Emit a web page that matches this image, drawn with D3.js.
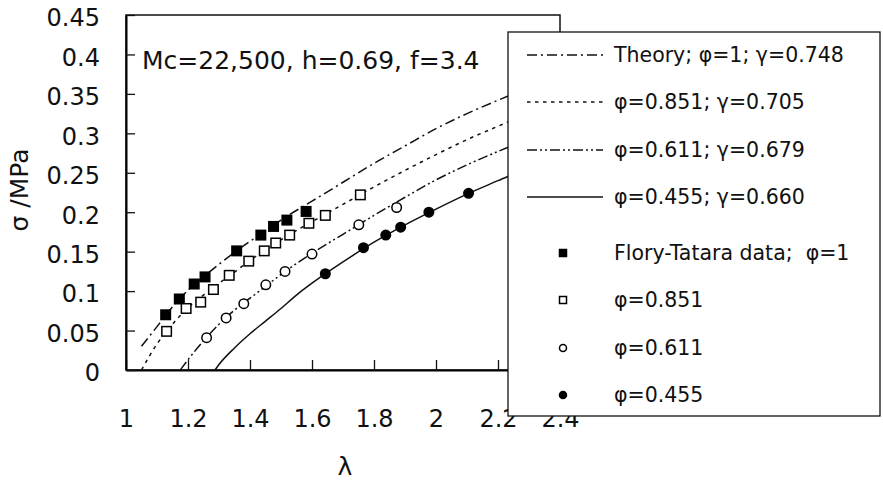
<!DOCTYPE html>
<html>
<head>
<meta charset="utf-8">
<title>stress-strain with d3</title>
<style>
	body { margin: 0; background: #fff; }
	svg text { font-family: "DejaVu Sans", sans-serif; fill: #111; }
</style>
</head>
<body>
<div class="svg-chart"></div>
<script src="https://cdn.jsdelivr.net/npm/d3@7"></script>
<script>
	// tick labels
	let lambdaTicks = [1, 1.2, 1.4, 1.6, 1.8, 2, 2.2, 2.4];
	let sigmaTicks = [0, 0.05, 0.1, 0.15, 0.2, 0.25, 0.3, 0.35, 0.4, 0.45];

	// theory curves [lambda, sigma]
	let theoryPhi1 = [[1.05,0.030],[1.10,0.055],[1.15,0.080],[1.20,0.101],[1.25,0.118],[1.30,0.134],[1.35,0.149],[1.40,0.163],[1.45,0.176],[1.50,0.190],[1.60,0.214],[1.70,0.238],[1.80,0.262],[1.90,0.284],[2.00,0.306],[2.10,0.325],[2.20,0.342],[2.30,0.358],[2.40,0.374]];
	let theoryPhi851 = [[1.05,0.0],[1.10,0.033],[1.15,0.058],[1.20,0.079],[1.25,0.095],[1.30,0.110],[1.35,0.124],[1.40,0.139],[1.45,0.152],[1.50,0.165],[1.60,0.188],[1.70,0.210],[1.80,0.232],[1.90,0.253],[2.00,0.273],[2.10,0.292],[2.20,0.309],[2.30,0.325],[2.40,0.341]];
	let theoryPhi611 = [[1.175,0.0],[1.20,0.013],[1.25,0.037],[1.30,0.058],[1.35,0.076],[1.40,0.091],[1.45,0.106],[1.50,0.121],[1.60,0.148],[1.70,0.172],[1.80,0.196],[1.90,0.219],[2.00,0.241],[2.10,0.260],[2.20,0.277],[2.30,0.293],[2.40,0.309]];
	let theoryPhi455 = [[1.287,0.0],[1.30,0.007],[1.35,0.028],[1.40,0.046],[1.45,0.062],[1.50,0.078],[1.55,0.095],[1.60,0.110],[1.70,0.137],[1.80,0.162],[1.90,0.184],[2.00,0.204],[2.10,0.223],[2.20,0.240],[2.30,0.257],[2.40,0.273]];

	// measured data [lambda, sigma]
	let dataPhi1 = [[1.128,0.070],[1.172,0.090],[1.220,0.109],[1.255,0.118],[1.357,0.151],[1.435,0.171],[1.476,0.182],[1.519,0.190],[1.581,0.201]];
	let dataPhi851 = [[1.131,0.049],[1.194,0.078],[1.241,0.086],[1.282,0.102],[1.333,0.120],[1.396,0.138],[1.446,0.151],[1.483,0.161],[1.528,0.171],[1.590,0.186],[1.643,0.196],[1.756,0.222]];
	let dataPhi611 = [[1.260,0.041],[1.323,0.066],[1.380,0.084],[1.451,0.108],[1.513,0.125],[1.600,0.147],[1.751,0.184],[1.873,0.206]];
	let dataPhi455 = [[1.643,0.122],[1.766,0.155],[1.838,0.171],[1.886,0.181],[1.977,0.200],[2.105,0.224]];

	let lineLabels = ["Theory; \u03c6=1; \u03b3=0.748", "\u03c6=0.851; \u03b3=0.705", "\u03c6=0.611; \u03b3=0.679", "\u03c6=0.455; \u03b3=0.660"];
	let pointLabels = ["Flory-Tatara data;  \u03c6=1", "\u03c6=0.851", "\u03c6=0.611", "\u03c6=0.455"];
	let annotation = "Mc=22,500, h=0.69, f=3.4";

	window.onload = function(){
		showChart();
	}

	function showChart(){
		let width = 883, height = 480;
		let plot = {"left": 126, "right": 560, "top": 15, "bottom": 370};

		let scaleX = d3.scaleLinear().domain([1, 2.4]).range([plot.left, plot.right]);
		let scaleY = d3.scaleLinear().domain([0, 0.45]).range([plot.bottom, plot.top]);

		let svg = d3.select(".svg-chart").append("svg")
			.attr("width", width)
			.attr("height", height);

		// frame
		svg.append("rect")
			.attr("x", plot.left).attr("y", plot.top)
			.attr("width", plot.right - plot.left).attr("height", plot.bottom - plot.top)
			.attr("fill", "none").attr("stroke", "#111").attr("stroke-width", 1.5);

		// axes, ticks pointing inward
		let axisX = d3.axisBottom(scaleX).tickValues(lambdaTicks).tickSizeInner(-10).tickSizeOuter(0).tickPadding(0).tickFormat(d => String(d));
		let gx = svg.append("g").attr("transform", "translate(0," + plot.bottom + ")").call(axisX);
		gx.select(".domain").attr("stroke-width", 2);
		gx.selectAll(".tick line").attr("stroke", "#111").attr("stroke-width", 1.3);
		gx.selectAll(".tick text").attr("font-size", 24).attr("y", 57).attr("dy", null).attr("font-family", null);

		let axisY = d3.axisLeft(scaleY).tickValues(sigmaTicks).tickSizeInner(-9).tickSizeOuter(0).tickPadding(0).tickFormat(d => String(d));
		let gy = svg.append("g").attr("transform", "translate(" + plot.left + ",0)").call(axisY);
		gy.select(".domain").attr("stroke-width", 2);
		gy.selectAll(".tick line").attr("stroke", "#111").attr("stroke-width", 1.3);
		gy.selectAll(".tick text").attr("font-size", 24).attr("x", -26).attr("dy", "0.45em").attr("font-family", null);

		// axis titles
		svg.append("text")
			.attr("transform", "translate(28," + 190 + ") rotate(-90)")
			.attr("text-anchor", "middle")
			.attr("font-size", 25)
			.text("\u03c3 /MPa");
		svg.append("text")
			.attr("x", (plot.left + 560) / 2 + 2).attr("y", 475)
			.attr("text-anchor", "middle")
			.attr("font-size", 25)
			.text("\u03bb");

		svg.append("text")
			.attr("x", 142).attr("y", 69)
			.attr("font-size", 25)
			.text(annotation);

		// curves
		let dashes = ["10,4,2,4", "3.5,4.5", "10,3,2,3,2,3", null];
		let curves = [theoryPhi1, theoryPhi851, theoryPhi611, theoryPhi455];
		let line = d3.line()
			.x(d => scaleX(d[0]))
			.y(d => scaleY(d[1]))
			.curve(d3.curveMonotoneX);
		curves.forEach((c, i) => {
			svg.append("path")
				.datum(c)
				.attr("d", line)
				.attr("fill", "none")
				.attr("stroke", "#111")
				.attr("stroke-width", 1.5)
				.attr("stroke-dasharray", dashes[i]);
		});

		// markers
		function drawMarker(g, kind, x, y, s){
			if (kind === "fsq" || kind === "osq") {
				g.append("rect")
					.attr("x", x - s / 2).attr("y", y - s / 2)
					.attr("width", s).attr("height", s)
					.attr("fill", kind === "fsq" ? "#000" : "#fff")
					.attr("stroke", "#000").attr("stroke-width", 1.5);
			} else {
				g.append("circle")
					.attr("cx", x).attr("cy", y).attr("r", s / 2)
					.attr("fill", kind === "fci" ? "#000" : "#fff")
					.attr("stroke", "#000").attr("stroke-width", 1.5);
			}
		}
		let kinds = ["fsq", "osq", "oci", "fci"];
		let sets = [dataPhi1, dataPhi851, dataPhi611, dataPhi455];
		let gm = svg.append("g");
		sets.forEach((set, i) => {
			set.forEach(d => drawMarker(gm, kinds[i], scaleX(d[0]), scaleY(d[1]), 9.5));
		});

		// legend box drawn over plot
		let leg = svg.append("g");
		leg.append("rect")
			.attr("x", 508).attr("y", 32)
			.attr("width", 372).attr("height", 384)
			.attr("fill", "#fff").attr("stroke", "#111").attr("stroke-width", 1.3);

		let lineRows = [55, 102, 150, 197];
		lineLabels.forEach((t, i) => {
			leg.append("line")
				.attr("x1", 527).attr("x2", 603)
				.attr("y1", lineRows[i]).attr("y2", lineRows[i])
				.attr("stroke", "#111").attr("stroke-width", 1.5)
				.attr("stroke-dasharray", dashes[i]);
			leg.append("text")
				.attr("x", 614).attr("y", lineRows[i])
				.attr("dy", "0.36em")
				.attr("font-size", 20.5)
				.text(t);
		});

		let pointRows = [253, 300, 348, 395];
		pointLabels.forEach((t, i) => {
			drawMarker(leg, kinds[i], 563, pointRows[i], 7);
			leg.append("text")
				.attr("x", 614).attr("y", pointRows[i])
				.attr("dy", "0.36em")
				.attr("font-size", 20.5)
				.style("white-space", "pre")
				.text(t);
		});
	}
</script>
</body>
</html>
